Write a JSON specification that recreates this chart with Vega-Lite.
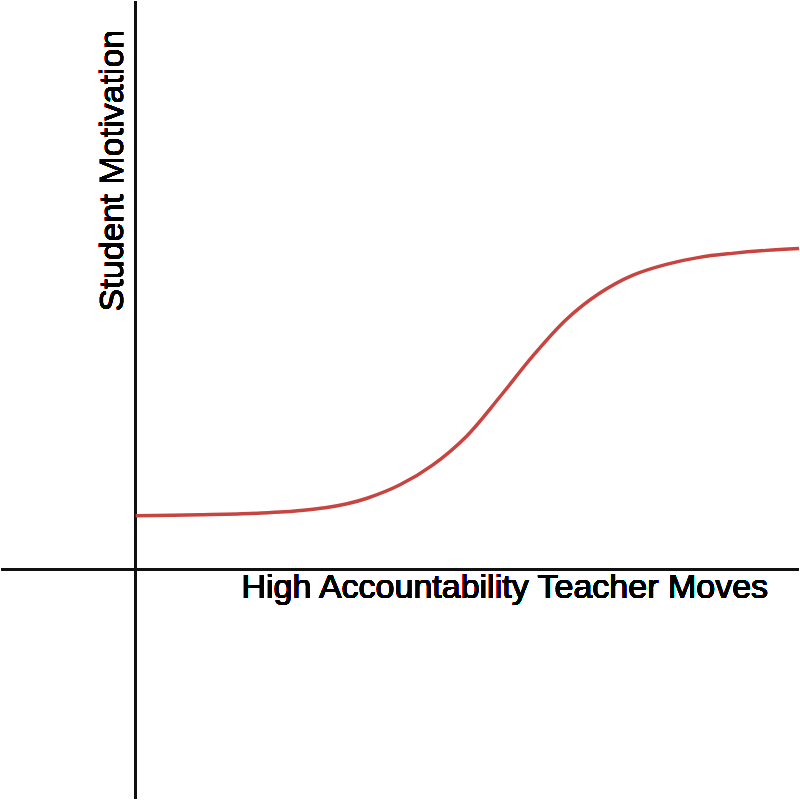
{
  "$schema": "https://vega.github.io/schema/vega-lite/v6.json",
  "width": 800,
  "height": 800,
  "autosize": {"type": "fit", "contains": "padding"},
  "padding": 0,
  "background": "white",
  "config": {"view": {"stroke": null}},
  "datasets": {
    "curve": [
      {"moves": 0, "motivation": 54},
      {"moves": 65, "motivation": 55},
      {"moves": 115, "motivation": 56.2},
      {"moves": 145, "motivation": 57.6},
      {"moves": 165, "motivation": 59.2},
      {"moves": 190, "motivation": 62},
      {"moves": 212, "motivation": 66},
      {"moves": 232, "motivation": 71.5},
      {"moves": 265, "motivation": 85},
      {"moves": 298, "motivation": 105},
      {"moves": 332, "motivation": 134},
      {"moves": 365, "motivation": 173},
      {"moves": 398, "motivation": 214},
      {"moves": 432, "motivation": 251},
      {"moves": 465, "motivation": 277},
      {"moves": 498, "motivation": 295},
      {"moves": 532, "motivation": 306},
      {"moves": 565, "motivation": 313},
      {"moves": 598, "motivation": 317},
      {"moves": 632, "motivation": 320},
      {"moves": 665, "motivation": 322}
    ]
  },
  "data": {"name": "curve"},
  "encoding": {
    "x": {"type": "quantitative", "scale": {"domain": [-135, 665], "nice": false, "zero": false}, "axis": null},
    "y": {"type": "quantitative", "scale": {"domain": [-230, 570], "nice": false, "zero": false}, "axis": null}
  },
  "layer": [
    {
      "mark": {"type": "rule", "color": "#111", "strokeWidth": 2},
      "encoding": {"x": {"datum": 0, "type": "quantitative"}}
    },
    {
      "mark": {"type": "rule", "color": "#111", "strokeWidth": 2},
      "encoding": {"y": {"datum": 0, "type": "quantitative"}}
    },
    {
      "mark": {"type": "line", "color": "#c74440", "strokeWidth": 3.5, "interpolate": "catmull-rom", "clip": true},
      "encoding": {
        "x": {"field": "moves", "type": "quantitative"},
        "y": {"field": "motivation", "type": "quantitative"}
      }
    },
    {
      "mark": {"type": "text", "text": "High Accountability Teacher Moves", "font": "Liberation Sans", "fontSize": 34, "align": "left", "baseline": "alphabetic", "color": "black"},
      "encoding": {
        "x": {"datum": 106, "type": "quantitative"},
        "y": {"datum": -28, "type": "quantitative"}
      }
    },
    {
      "mark": {"type": "text", "text": "Student Motivation", "font": "Liberation Sans", "fontSize": 34, "align": "center", "baseline": "alphabetic", "angle": 270, "color": "black"},
      "encoding": {
        "x": {"datum": -13, "type": "quantitative"},
        "y": {"datum": 400, "type": "quantitative"}
      }
    }
  ]
}
